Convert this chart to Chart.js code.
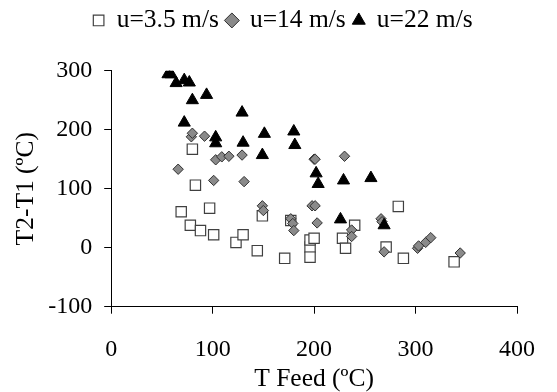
<!DOCTYPE html>
<html>
<head>
<meta charset="utf-8">
<script src="https://cdn.jsdelivr.net/npm/chart.js@4.4.1/dist/chart.umd.min.js"></script>
<style>
  html, body { margin: 0; padding: 0; background: #fff; }
  #wrap { width: 557px; height: 392px; }
</style>
</head>
<body>
<div id="wrap"><canvas id="chart" width="557" height="392"></canvas></div>
<script>
// Nama seri dan label sumbu
const seriesNames = ['u=3.5 m/s', 'u=14 m/s', 'u=22 m/s'];
const xTitle = 'T Feed (ºC)';
const yTitle = 'T2-T1 (ºC)';
const xTicks = [0, 100, 200, 300, 400];
const yTicks = [-100, 0, 100, 200, 300];

// u = 3.5 m/s (kotak)
const lowX = [69, 78, 80, 83, 88, 97, 101, 123, 130, 144, 149, 171, 177, 196, 196, 196, 200, 228, 231, 240, 271, 283, 288, 338];
const lowY = [61, 38, 167, 106, 29, 67, 22, 9, 22, -5, 54, -18, 46, 1, -16, 13, 16, 16, -1, 38, 1, 70, -18, -24];

// u = 14 m/s (belah ketupat)
const midX = [66, 79, 80, 92, 101, 103, 109, 116, 129, 131, 149, 150, 177, 179, 180, 198, 200, 201, 201, 203, 230, 237, 237, 266, 267, 269, 302, 303, 310, 315, 344];
const midY = [133, 188, 194, 189, 114, 149, 154, 155, 157, 112, 71, 63, 49, 41, 29, 71, 150, 150, 71, 42, 155, 30, 19, 49, 44, -7, -1, 3, 9, 17, -9];

// u = 22 m/s (segitiga)
const highX = [56, 59, 64, 72, 72, 77, 80, 94, 103, 103, 129, 130, 149, 151, 180, 181, 202, 204, 226, 229, 256, 269];
const highY = [294, 294, 279, 284, 212, 280, 250, 259, 187, 177, 229, 178, 157, 193, 197, 174, 126, 108, 48, 114, 118, 38];

function toPoints(xs, ys) {
    return xs.map((x, i) => ({ x: x, y: ys[i] }));
}

// Tambah jarak di bawah legenda
const legendGap = {
    id: 'legendGap',
    beforeInit(chart) {
        const fit = chart.legend.fit;
        chart.legend.fit = function () {
            fit.call(this);
            this.height += 27.5;
        };
    }
};

Chart.defaults.font.family = '"Liberation Serif", "Times New Roman", serif';
Chart.defaults.font.size = 24;
Chart.defaults.color = '#000';

const axisGrid = { display: true, drawOnChartArea: false, drawTicks: true, tickLength: 7, color: '#000', lineWidth: 1 };
const axisBorder = { display: true, color: '#000', width: 1 };

new Chart(document.getElementById('chart').getContext('2d'), {
    type: 'scatter',
    data: {
        datasets: [
            {
                label: seriesNames[0],
                data: toPoints(lowX, lowY),
                pointStyle: 'rect',
                pointRadius: 7.3,
                backgroundColor: '#ffffff',
                borderColor: '#404040',
                borderWidth: 1.2,
                order: 3
            },
            {
                label: seriesNames[1],
                data: toPoints(midX, midY),
                pointStyle: 'rectRot',
                pointRadius: 5.2,
                backgroundColor: '#8a8a8a',
                borderColor: '#303030',
                borderWidth: 1,
                order: 2
            },
            {
                label: seriesNames[2],
                data: toPoints(highX, highY),
                pointStyle: 'triangle',
                pointRadius: 7,
                backgroundColor: '#000000',
                borderColor: '#000000',
                borderWidth: 1,
                order: 1
            }
        ]
    },
    options: {
        responsive: false,
        devicePixelRatio: 1,
        animation: false,
        layout: { padding: { left: 27.5, right: 18.5, top: 0, bottom: 0 } },
        plugins: {
            legend: {
                position: 'top',
                labels: {
                    usePointStyle: true, boxWidth: 10.6, boxHeight: 10.6, padding: 7.7,
                    font: { size: 25.5 },
                    sort: (a, b) => a.datasetIndex - b.datasetIndex
                }
            },
            tooltip: { enabled: false }
        },
        scales: {
            x: {
                type: 'linear',
                min: xTicks[0],
                max: xTicks[xTicks.length - 1],
                afterBuildTicks: (scale) => { scale.ticks = xTicks.map(v => ({ value: v })); },
                afterFit: (scale) => { scale.height = 85.3; },
                ticks: { padding: 22 },
                grid: axisGrid,
                border: axisBorder,
                title: { display: true, text: xTitle, font: { size: 25.5 }, padding: { top: 0, bottom: -3 } }
            },
            y: {
                type: 'linear',
                min: yTicks[0],
                max: yTicks[yTicks.length - 1],
                afterBuildTicks: (scale) => { scale.ticks = yTicks.map(v => ({ value: v })); },
                afterFit: (scale) => { scale.width = 83.7; },
                ticks: { padding: 12 },
                grid: axisGrid,
                border: axisBorder,
                title: { display: true, text: yTitle, font: { size: 25.5 }, padding: { top: -16.8, bottom: 0 } }
            }
        }
    },
    plugins: [legendGap]
});
</script>
</body>
</html>
